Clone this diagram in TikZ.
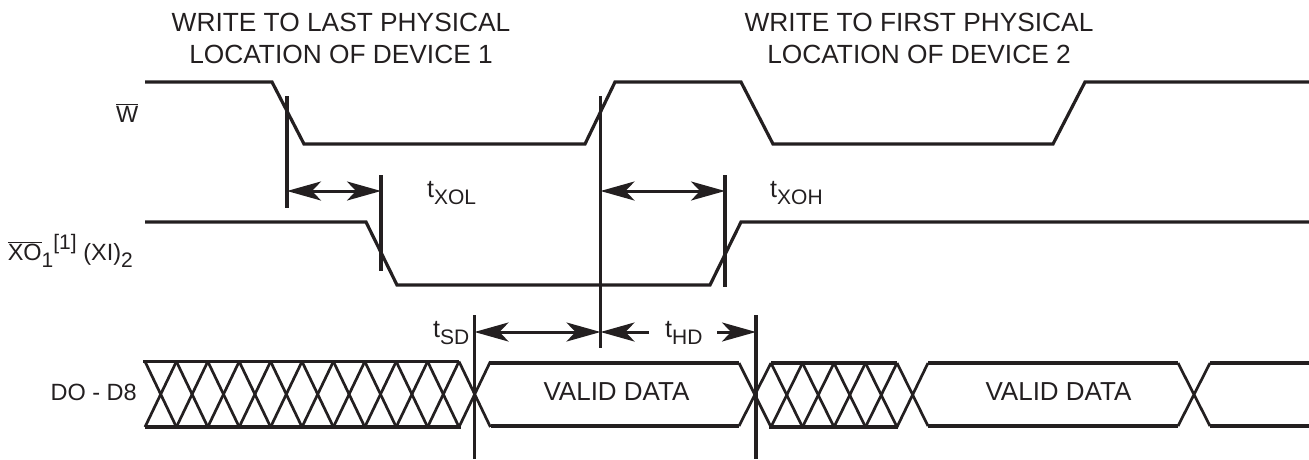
\documentclass[tikz,border=0pt]{standalone}
\usepackage{fontspec}
\setmainfont{Liberation Sans}
\usetikzlibrary{arrows.meta}
\definecolor{ink}{HTML}{231F20}
\newcommand{\lowtxt}[1]{\raisebox{-0.28em}{\fontsize{21}{21}\selectfont #1}}
\newcommand{\lowsig}[1]{\raisebox{-0.3em}{\fontsize{21}{21}\selectfont #1}}
\newcommand{\hightxt}[1]{\raisebox{0.45em}{\fontsize{21}{21}\selectfont #1}}

\begin{document}
\begin{tikzpicture}[x=1pt,y=-1pt,>={Stealth[length=34pt,width=19pt,inset=9pt]},
    wave/.style={ink,line width=3.2pt,line join=miter},
    hatch/.style={ink,line width=2.7pt},
    cursor/.style={ink,line width=3.2pt},
    span/.style={ink,line width=3pt,<->},
    stub/.style={ink,line width=3pt,->},
    head/.style={ink,align=center,inner sep=0pt,font=\fontsize{26.3}{32}\selectfont},
    sig/.style={ink,anchor=base east,inner sep=0pt,font=\fontsize{23.5}{28}\selectfont},
    tlabel/.style={ink,anchor=base west,inner sep=0pt,font=\fontsize{25}{30}\selectfont},
    datatxt/.style={ink,anchor=base,inner sep=0pt,font=\fontsize{26}{30}\selectfont}]
    \useasboundingbox (0,0) rectangle (1309,459);

    \node[head] (head1) at (341,38) {WRITE TO LAST PHYSICAL\\LOCATION OF DEVICE 1};
    \node[head] (head2) at (919,38) {WRITE TO FIRST PHYSICAL\\LOCATION OF DEVICE 2};

    \node[sig] (w)  at (138.5,122) {$\overline{\mbox{W}}$};
    \node[sig] (xo) at (133,260) {$\overline{\mbox{XO}}$\lowsig{1}\hightxt{[1]} (XI)\lowsig{2}};
    \node[sig] (do) at (137,400) {DO - D8};

    \node[tlabel] (txol) at (427,197) {t\lowtxt{XOL}};
    \node[tlabel] (txoh) at (770,197) {t\lowtxt{XOH}};
    \node[tlabel] (tsd)  at (433,337) {t\lowtxt{SD}};
    \node[tlabel] (thd)  at (665,337) {t\lowtxt{HD}};

    \node[datatxt] (valid1) at (616.5,400.5) {VALID DATA};
    \node[datatxt] (valid2) at (1058.5,400.5) {VALID DATA};

    % W and XO lines
    \draw[wave] (145,82) -- (272,82) -- (304,144) -- (585,144) -- (615,82)
                -- (741,82) -- (773,144) -- (1053,144) -- (1085,82) -- (1309,82);
    \draw[wave] (145,222) -- (366,222) -- (397,285) -- (710,285) -- (741,222) -- (1309,222);

    % data bus
    \draw[wave] (143,361.5) -- (459,361.5);
    \draw[wave] (145,427) -- (461,427);
    \foreach \n in {0,...,10} {
        \draw[hatch] ({145+31.4*\n},361.5) -- ({176.4+31.4*\n},427);
        \draw[hatch] ({145+31.4*\n},427) -- ({176.4+31.4*\n},361.5);
    }
    \draw[hatch] (739,363) -- (771,427) (739,426) -- (771,363);
    \draw[wave] (490,363) -- (739,363) (491,426) -- (739,426);
    \draw[wave] (771,363) -- (897,363) (769,427) -- (898,427);
    \foreach \n in {0,...,3} {
        \draw[hatch] ({771+31.5*\n},363) -- ({802.5+31.5*\n},427);
        \draw[hatch] ({771+31.5*\n},427) -- ({802.5+31.5*\n},363);
    }
    \draw[hatch] (897,363) -- (928,426) (897,427) -- (928,363);
    \draw[wave] (928,363) -- (1178,363) (928,426) -- (1178,426);
    \draw[hatch] (1178,363) -- (1210,426) (1178,426) -- (1210,363);
    \draw[wave] (1210,363) -- (1309,363) (1210,426) -- (1309,426);

    % cursors
    \draw[cursor] (287,96) -- (287,208);
    \draw[cursor] (381,175) -- (381,271);
    \draw[cursor] (600.5,96) -- (600.5,348);
    \draw[cursor] (725,175) -- (725,287);
    \draw[cursor] (474.5,315) -- (474.5,459);
    \draw[cursor] (756,315) -- (756,459);

    \coordinate (xola) at (287,191);
    \coordinate (xolb) at (381,191);
    \coordinate (xoha) at (600.5,191);
    \coordinate (xohb) at (725,191);
    \coordinate (sda)  at (474.5,332);
    \coordinate (sdb)  at (600.5,332);
    \coordinate (hda)  at (649,332);
    \coordinate (hdb)  at (717,332);
    \coordinate (hdc)  at (756,332);

    \draw[span] (xola) -- (xolb);
    \draw[span] (xoha) -- (xohb);
    \draw[span] (sda) -- (sdb);
    \draw[stub] (hda) -- (sdb);
    \draw[stub] (hdb) -- (hdc);
\end{tikzpicture}
\end{document}
